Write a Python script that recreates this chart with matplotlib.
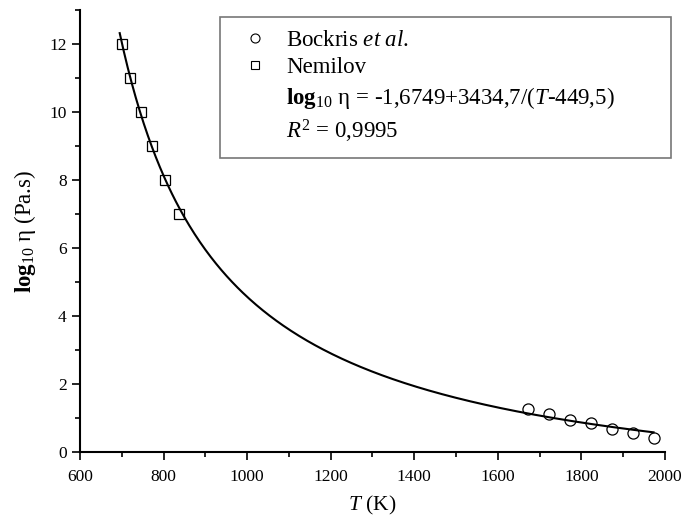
import numpy as np
import matplotlib
matplotlib.use('Agg')
import matplotlib.pyplot as plt
from matplotlib.lines import Line2D
from matplotlib.ticker import MultipleLocator

plt.rcParams['font.family'] = ['Liberation Serif', 'DejaVu Serif']
plt.rcParams['mathtext.fontset'] = 'custom'
plt.rcParams['mathtext.rm'] = 'Liberation Serif'
plt.rcParams['mathtext.it'] = 'Liberation Serif:italic'
plt.rcParams['mathtext.bf'] = 'Liberation Serif:bold'

# Bockris et al. (circles)
bockris_T = [1673, 1723, 1773, 1823, 1873, 1923, 1973]
bockris_log_eta = [1.26, 1.12, 0.95, 0.85, 0.68, 0.56, 0.42]

# Nemilov (squares)
nemilov_T = [700, 720, 745, 772, 803, 838]
nemilov_log_eta = [12, 11, 10, 9, 8, 7]

# VFT fit parameters shown in the legend
fit_A = -1.6749
fit_B = 3434.7
fit_T0 = 449.5
fit_T_range = (695, 1973)

fig = plt.figure(figsize=(6.84, 5.19), dpi=100)
ax = fig.add_axes([0.117, 0.129, 0.855, 0.852])

T = np.linspace(fit_T_range[0], fit_T_range[1], 400)
ax.plot(T, fit_A + fit_B / (T - fit_T0), color='black', lw=1.5)

ax.plot(bockris_T, bockris_log_eta, 'o', mfc='none', mec='black', ms=8, mew=0.9)
ax.plot(nemilov_T, nemilov_log_eta, 's', mfc='none', mec='black', ms=7, mew=0.9)

ax.set_xlim(600, 2000)
ax.set_ylim(0, 13)
ax.xaxis.set_major_locator(MultipleLocator(200))
ax.xaxis.set_minor_locator(MultipleLocator(100))
ax.yaxis.set_major_locator(MultipleLocator(2))
ax.yaxis.set_minor_locator(MultipleLocator(1))
ax.spines['top'].set_visible(False)
ax.spines['right'].set_visible(False)
for s in ['left', 'bottom']:
    ax.spines[s].set_linewidth(1.5)
ax.tick_params(which='major', direction='out', length=6, width=1.2, labelsize=12.5)
ax.tick_params(axis='x', which='major', pad=6)
ax.tick_params(which='minor', direction='out', length=3.5, width=1.2)

ax.set_xlabel(r'$T$ (K)', fontsize=15.5, labelpad=7)
ax.set_ylabel(r'$\mathbf{log}_{10}$ η (Pa.s)', fontsize=16.5, labelpad=8)

handles = [
    Line2D([], [], ls='none', marker='o', mfc='none', mec='black', ms=6.5, mew=0.8),
    Line2D([], [], ls='none', marker='s', mfc='none', mec='black', ms=5.5, mew=0.8),
    Line2D([], [], ls='none'),
    Line2D([], [], ls='none'),
]
labels = [
    r'Bockris $et\ al$.',
    'Nemilov',
    r'$\mathbf{log}_{10}$ η = -1,6749+3434,7/($T$-449,5)',
    r'$R^2$ = 0,9995',
]
leg = ax.legend(handles, labels, loc='upper left',
                bbox_to_anchor=(0.239, 0.35, 0.771, 0.634), mode='expand',
                borderaxespad=0, fontsize=16.5, frameon=True, fancybox=False,
                borderpad=0.55, handletextpad=0.35, labelspacing=0.3,
                handlelength=2.0)
leg.get_frame().set_edgecolor('#555555')
leg.get_frame().set_linewidth(1.2)

fig.savefig('out.png', dpi=100)
